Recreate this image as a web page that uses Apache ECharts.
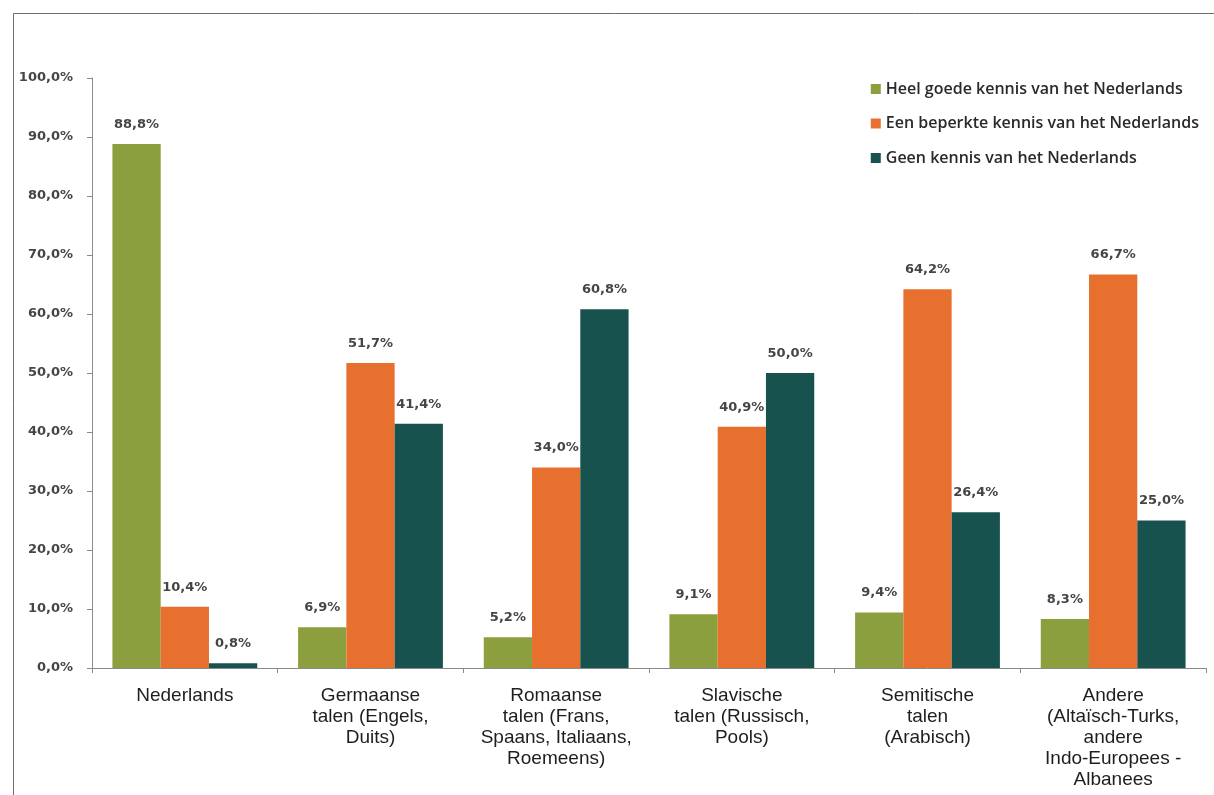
<!DOCTYPE html>
<html><head><meta charset="utf-8">
<script src="https://cdn.jsdelivr.net/npm/echarts@6/dist/echarts.min.js"></script>
<style>html,body{margin:0;padding:0;background:#fff}#c{width:1214px;height:795px}</style>
</head><body><div id="c"></div>
<script>
const categories = [
  "Nederlands",
  "Germaanse\ntalen (Engels,\nDuits)",
  "Romaanse\ntalen (Frans,\nSpaans, Italiaans,\nRoemeens)",
  "Slavische\ntalen (Russisch,\nPools)",
  "Semitische\ntalen\n(Arabisch)",
  "Andere\n(Altaïsch-Turks,\nandere\nIndo-Europees -\nAlbanees"
];
const seriesNames = [
  "Heel goede kennis van het Nederlands",
  "Een beperkte kennis van het Nederlands",
  "Geen kennis van het Nederlands"
];
const goede = [88.8, 6.9, 5.2, 9.1, 9.4, 8.3];
const beperkte = [10.4, 51.7, 34.0, 40.9, 64.2, 66.7];
const geen = [0.8, 41.4, 60.8, 50.0, 26.4, 25.0];
const colors = ["#8c9f3f", "#e7702f", "#17524f"];

const fmt = v => v.toFixed(1).replace('.', ',') + '%';
const labelStyle = {
  show: true, position: 'top', distance: 13,
  formatter: p => fmt(p.value),
  fontFamily: 'DejaVu Sans', fontWeight: 'bold', fontSize: 13, color: '#454545'
};
const chart = echarts.init(document.getElementById('c'));
chart.setOption({
  animation: false,
  graphic: [{
    type: 'rect', shape: {x: 13.5, y: 13.5, width: 1220, height: 800},
    style: {fill: 'none', stroke: '#6e6e6e', lineWidth: 1}, silent: true
  }],
  legend: {
    orient: 'vertical', right: 10, top: 76,
    itemWidth: 10, itemHeight: 10, itemGap: 18.5,
    icon: 'rect',
    textStyle: {fontFamily: 'Open Sans', fontWeight: 600, fontSize: 16, color: '#2a2a2a'},
    data: seriesNames
  },
  grid: {left: 92, right: 8, top: 78, bottom: 127},
  xAxis: {
    type: 'category', data: categories,
    axisLine: {lineStyle: {color: '#8a8a8a'}},
    axisTick: {show: true, length: 5, lineStyle: {color: '#8a8a8a'}},
    axisLabel: {fontFamily: 'Liberation Sans', fontSize: 19, color: '#1e1e1e', lineHeight: 21, margin: 17, interval: 0}
  },
  yAxis: {
    type: 'value', min: 0, max: 100, interval: 10,
    splitLine: {show: false},
    axisLine: {show: true, lineStyle: {color: '#8a8a8a'}},
    axisTick: {show: true, length: 5, lineStyle: {color: '#8a8a8a'}},
    axisLabel: {formatter: v => fmt(v), fontFamily: 'DejaVu Sans', fontWeight: 'bold', fontSize: 13, color: '#454545', margin: 19}
  },
  series: [
    {name: seriesNames[0], type: 'bar', data: goede, itemStyle: {color: colors[0]}, barGap: '0%', barCategoryGap: '22%', label: labelStyle},
    {name: seriesNames[1], type: 'bar', data: beperkte, itemStyle: {color: colors[1]}, barGap: '0%', barCategoryGap: '22%', label: labelStyle},
    {name: seriesNames[2], type: 'bar', data: geen, itemStyle: {color: colors[2]}, barGap: '0%', barCategoryGap: '22%', label: labelStyle}
  ]
});
</script></body></html>
